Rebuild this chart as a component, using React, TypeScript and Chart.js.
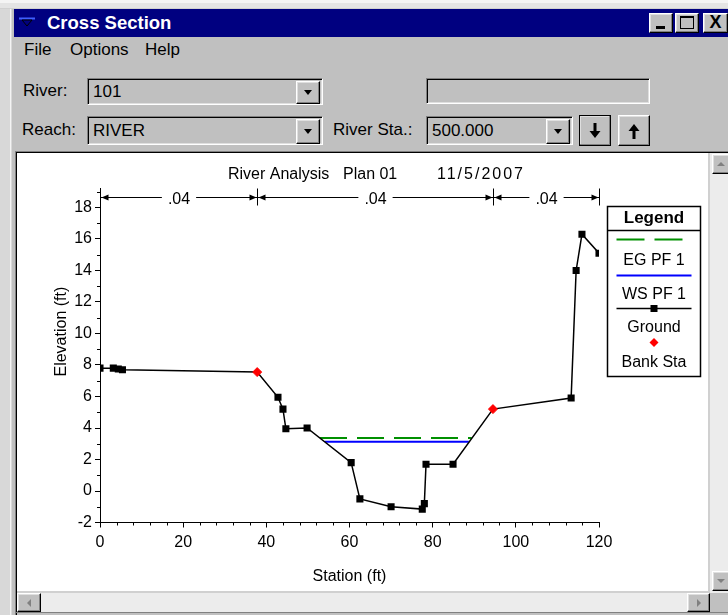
import React, { useEffect, useRef } from "react";
import { Chart, registerables } from "chart.js";

Chart.register(...registerables);

// ---------------- data ----------------
const groundStation = [0, 3.2, 4.4, 5.4, 37.8, 42.8, 44.0, 44.7, 49.8, 60.4, 62.5, 70.0, 77.5, 78.0, 78.4, 84.9, 94.5, 113.3, 114.5, 115.9, 120.0];
const groundElev = [7.8, 7.8, 7.75, 7.7, 7.55, 5.95, 5.2, 3.95, 4.0, 1.8, -0.5, -1.0, -1.15, -0.8, 1.7, 1.7, 5.2, 5.9, 14.0, 16.3, 15.1];
const bankStation = [37.8, 94.5];
const bankElev = [7.55, 5.2];
const wsStation = [54.1, 88.7];
const wsElev = [3.12, 3.12];
const egStation = [52.9, 89.4];
const egElev = [3.36, 3.36];
const nBreaks = [0, 37.8, 94.5, 120];
const nValues = [".04", ".04", ".04"];
const xTicks = [0, 20, 40, 60, 80, 100, 120];
const yTicks = [-2, 0, 2, 4, 6, 8, 10, 12, 14, 16, 18];
const xMinorStep = 4;
const yMinorStep = 1;
const legendLabels = ["EG PF 1", "WS PF 1", "Ground", "Bank Sta"];
const titleParts = ["River Analysis", "Plan 01", "11/5/2007"];

// ---------------- styles ----------------
const FONT = '"Liberation Sans", Arial, Helvetica, sans-serif';
const EG_COLOR = "#009000";
const WS_COLOR = "#0000ff";
const GROUND_COLOR = "#000000";
const BANK_COLOR = "#ff0000";

const chartPlugin = {
  id: "hecras",
  afterDraw(chart: any) {
    const { ctx, chartArea: a, scales } = chart;
    const xs = scales.x;
    const ys = scales.y;
    ctx.save();
    ctx.strokeStyle = "#000";
    ctx.fillStyle = "#000";
    ctx.lineWidth = 1;

    // minor ticks
    ctx.beginPath();
    for (let v = xs.min; v <= xs.max + 1e-9; v += xMinorStep) {
      if (xTicks.includes(v)) continue;
      const px = Math.round(xs.getPixelForValue(v)) + 0.5;
      ctx.moveTo(px, a.bottom);
      ctx.lineTo(px, a.bottom + 3);
    }
    for (let v = Math.ceil(ys.min); v <= ys.max + 1e-9; v += yMinorStep) {
      if (yTicks.includes(v)) continue;
      const py = Math.round(ys.getPixelForValue(v)) + 0.5;
      ctx.moveTo(a.left - 3, py);
      ctx.lineTo(a.left, py);
    }
    ctx.stroke();

    // title
    ctx.font = `16px ${FONT}`;
    ctx.textAlign = "left";
    ctx.textBaseline = "middle";
    const ty = a.top - 13.6;
    ctx.fillText(titleParts[0], a.left + 128, ty);
    ctx.fillText(titleParts[1], a.left + 243, ty);
    const hasLS = "letterSpacing" in ctx;
    if (hasLS) (ctx as any).letterSpacing = "2px";
    ctx.fillText(titleParts[2], a.left + 337, ty);
    if (hasLS) (ctx as any).letterSpacing = "0px";

    // y-axis title
    ctx.save();
    ctx.translate(a.left - 38, a.top + 143);
    ctx.rotate(-Math.PI / 2);
    ctx.textAlign = "center";
    ctx.fillText("Elevation (ft)", 0, 0);
    ctx.restore();

    // Manning's n arrows
    const yA = Math.round(a.top + 8.4) + 0.5;
    ctx.textAlign = "center";
    for (let i = 0; i < nValues.length; i++) {
      const x1 = Math.round(xs.getPixelForValue(nBreaks[i])) + 0.5;
      const x2 = Math.round(xs.getPixelForValue(nBreaks[i + 1])) + 0.5;
      const mid = (x1 + x2) / 2;
      const tw = ctx.measureText(nValues[i]).width;
      ctx.beginPath();
      ctx.moveTo(x1, yA);
      ctx.lineTo(mid - tw / 2 - 6, yA);
      ctx.moveTo(mid + tw / 2 + 6, yA);
      ctx.lineTo(x2, yA);
      ctx.stroke();
      ctx.beginPath();
      ctx.moveTo(x1 + 1, yA);
      ctx.lineTo(x1 + 8, yA - 3);
      ctx.lineTo(x1 + 8, yA + 3);
      ctx.closePath();
      ctx.moveTo(x2 - 1, yA);
      ctx.lineTo(x2 - 8, yA - 3);
      ctx.lineTo(x2 - 8, yA + 3);
      ctx.closePath();
      ctx.fill();
      ctx.fillText(nValues[i], mid, yA + 2);
    }
    ctx.beginPath();
    for (let i = 0; i < nBreaks.length; i++) {
      const x = Math.round(xs.getPixelForValue(nBreaks[i])) + 0.5;
      ctx.moveTo(x, yA - 9);
      ctx.lineTo(x, yA + 8);
    }
    ctx.stroke();

    // legend box
    const L = Math.round(a.right + 8) + 0.5;
    const T = Math.round(a.top + 17.4) + 0.5;
    const W = 93;
    const H = 170;
    const cx = L + W / 2;
    ctx.lineWidth = 1.5;
    ctx.strokeRect(L, T, W, H);
    ctx.beginPath();
    ctx.moveTo(L, T + 24);
    ctx.lineTo(L + W, T + 24);
    ctx.stroke();
    ctx.font = `bold 17px ${FONT}`;
    ctx.fillText("Legend", cx, T + 11.5);
    ctx.font = `16px ${FONT}`;
    ctx.lineWidth = 2;
    ctx.strokeStyle = EG_COLOR;
    ctx.setLineDash([28, 10]);
    ctx.beginPath();
    ctx.moveTo(L + 9, T + 33);
    ctx.lineTo(L + 76, T + 33);
    ctx.stroke();
    ctx.setLineDash([]);
    ctx.fillText(legendLabels[0], cx, T + 54);
    ctx.strokeStyle = WS_COLOR;
    ctx.beginPath();
    ctx.moveTo(L + 9, T + 69);
    ctx.lineTo(L + 84, T + 69);
    ctx.stroke();
    ctx.fillText(legendLabels[1], cx, T + 88);
    ctx.strokeStyle = GROUND_COLOR;
    ctx.lineWidth = 1.5;
    ctx.beginPath();
    ctx.moveTo(L + 9, T + 102);
    ctx.lineTo(L + 84, T + 102);
    ctx.stroke();
    ctx.fillRect(cx - 3.5, T + 102 - 3.5, 7, 7);
    ctx.fillText(legendLabels[2], cx, T + 121);
    ctx.fillStyle = BANK_COLOR;
    ctx.beginPath();
    ctx.moveTo(cx - 4.5, T + 136);
    ctx.lineTo(cx, T + 131.5);
    ctx.lineTo(cx + 4.5, T + 136);
    ctx.lineTo(cx, T + 140.5);
    ctx.closePath();
    ctx.fill();
    ctx.fillStyle = "#000";
    ctx.fillText(legendLabels[3], cx, T + 156);
    ctx.restore();
  },
};

// ---------------- chrome helpers ----------------
const raised: React.CSSProperties = {
  position: "absolute",
  background: "#c0c0c0",
  borderTop: "1px solid #fff",
  borderLeft: "1px solid #fff",
  borderRight: "1px solid #000",
  borderBottom: "1px solid #000",
  boxShadow: "inset -1px -1px #808080, inset 1px 1px #dfdfdf",
  boxSizing: "border-box",
};
const sunken: React.CSSProperties = {
  position: "absolute",
  background: "#c0c0c0",
  borderTop: "1px solid #808080",
  borderLeft: "1px solid #808080",
  borderRight: "1px solid #fff",
  borderBottom: "1px solid #fff",
  boxShadow: "inset 1px 1px #000, inset -1px -1px #dfdfdf",
  boxSizing: "border-box",
};
const label: React.CSSProperties = {
  position: "absolute",
  fontSize: 17,
  color: "#000",
  whiteSpace: "nowrap",
  lineHeight: "20px",
};

function DownTri({ color = "#000" }: { color?: string }) {
  return (
    <div style={{ width: 0, height: 0, borderLeft: "4px solid transparent", borderRight: "4px solid transparent", borderTop: `5px solid ${color}` }} />
  );
}

function Combo({ left, top, width, height, text }: { left: number; top: number; width: number; height: number; text: string }) {
  return (
    <div style={{ ...sunken, left, top, width, height }}>
      <div style={{ ...label, left: 5, top: (height - 20) / 2 - 1 }}>{text}</div>
      <div style={{ ...raised, right: 2, top: 2, width: 24, height: height - 4, display: "flex", alignItems: "center", justifyContent: "center" }}>
        <DownTri />
      </div>
    </div>
  );
}

function Arrow({ up }: { up: boolean }) {
  return (
    <svg width="12" height="16" viewBox="0 0 12 16" style={{ transform: up ? "rotate(180deg)" : undefined }}>
      <rect x="4.5" y="0" width="3" height="9" fill="#000" />
      <polygon points="0.5,8 11.5,8 6,15" fill="#000" />
    </svg>
  );
}

function ScrollTri({ dir }: { dir: "up" | "down" | "left" | "right" }) {
  const c = "#808080";
  const s: React.CSSProperties = { width: 0, height: 0 };
  if (dir === "up") Object.assign(s, { borderLeft: "4px solid transparent", borderRight: "4px solid transparent", borderBottom: `4px solid ${c}` });
  if (dir === "down") Object.assign(s, { borderLeft: "4px solid transparent", borderRight: "4px solid transparent", borderTop: `4px solid ${c}` });
  if (dir === "left") Object.assign(s, { borderTop: "4px solid transparent", borderBottom: "4px solid transparent", borderRight: `4px solid ${c}` });
  if (dir === "right") Object.assign(s, { borderTop: "4px solid transparent", borderBottom: "4px solid transparent", borderLeft: `4px solid ${c}` });
  return <div style={s} />;
}

export default function App() {
  const ref = useRef<HTMLCanvasElement>(null);

  useEffect(() => {
    const canvas = ref.current;
    if (!canvas) return;
    const tickFont = { family: FONT, size: 16 };
    const chart = new Chart(canvas, {
      type: "scatter",
      data: {
        datasets: [
          {
            label: "Bank Sta",
            data: bankStation.map((x, i) => ({ x, y: bankElev[i] })),
            showLine: false,
            pointStyle: "rectRot",
            pointRadius: 4.5,
            pointBackgroundColor: BANK_COLOR,
            pointBorderColor: BANK_COLOR,
            pointBorderWidth: 1,
          },
          {
            label: "Ground",
            data: groundStation.map((x, i) => ({ x, y: groundElev[i] })),
            showLine: true,
            borderColor: GROUND_COLOR,
            borderWidth: 1.5,
            pointStyle: "rect",
            pointRadius: groundStation.map((x) => (bankStation.includes(x) ? 0 : 5)),
            pointBackgroundColor: GROUND_COLOR,
            pointBorderColor: GROUND_COLOR,
            pointBorderWidth: 0,
          },
          {
            label: "WS PF 1",
            data: wsStation.map((x, i) => ({ x, y: wsElev[i] })),
            showLine: true,
            borderColor: WS_COLOR,
            borderWidth: 2,
            pointRadius: 0,
          },
          {
            label: "EG PF 1",
            data: egStation.map((x, i) => ({ x, y: egElev[i] })),
            showLine: true,
            borderColor: EG_COLOR,
            borderWidth: 2,
            borderDash: [27, 10],
            pointRadius: 0,
          },
        ],
      },
      options: {
        responsive: false,
        animation: false,
        devicePixelRatio: 1,
        layout: { padding: { left: 0, right: 109, top: 35.6, bottom: 0 } },
        plugins: { legend: { display: false }, title: { display: false }, tooltip: { enabled: false } },
        scales: {
          x: {
            type: "linear",
            min: 0,
            max: 120,
            afterBuildTicks: (s: any) => {
              s.ticks = xTicks.map((v) => ({ value: v }));
            },
            afterFit: (s: any) => {
              s.height = 70.5;
            },
            grid: { drawOnChartArea: false, drawTicks: true, tickLength: 5, color: "#000", tickColor: "#000", lineWidth: 1 },
            border: { display: true, color: "#000", width: 1 },
            ticks: { color: "#000", font: tickFont, padding: 5, maxRotation: 0, autoSkip: false },
            title: { display: true, text: "Station (ft)", color: "#000", font: tickFont, padding: { top: 0, bottom: 7 } },
          },
          y: {
            type: "linear",
            min: -2,
            max: 19.2,
            afterBuildTicks: (s: any) => {
              s.ticks = yTicks.map((v) => ({ value: v }));
            },
            afterFit: (s: any) => {
              s.width = 83;
            },
            grid: { drawOnChartArea: false, drawTicks: true, tickLength: 5, color: "#000", tickColor: "#000", lineWidth: 1 },
            border: { display: true, color: "#000", width: 1 },
            ticks: { color: "#000", font: tickFont, padding: 3, autoSkip: false },
            title: { display: false },
          },
        },
      },
      plugins: [chartPlugin],
    } as any);
    return () => chart.destroy();
  }, []);

  return (
    <div style={{ position: "fixed", left: 0, top: 0, width: 728, height: 615, background: "#c0c0c0", overflow: "hidden", fontFamily: FONT }}>
      <div style={{ position: "absolute", left: 0, top: 0, width: 728, height: 9, background: "#e4e4e4", borderBottom: "1px solid #d0d0d0", boxSizing: "border-box" }} />
      <div style={{ position: "absolute", left: 0, top: 0, width: 728, height: 3, background: "#f4f4f4" }} />
      <div style={{ position: "absolute", left: 0, top: 9, width: 12, height: 606, background: "#d8d8d8" }} />
      <div style={{ position: "absolute", left: 10, top: 9, width: 1, height: 606, background: "#f4f4f4" }} />
      <div style={{ position: "absolute", left: 14, top: 9, width: 714, height: 28, background: "#000080" }}>
        <svg width="18" height="14" style={{ position: "absolute", left: 4, top: 7 }}>
          <line x1="1" y1="2.5" x2="17" y2="2.5" stroke="#4060ff" strokeWidth="2" />
          <polygon points="4,4 14,4 9,10" fill="none" stroke="#000" strokeWidth="1" />
        </svg>
        <div style={{ position: "absolute", left: 33, top: 3, color: "#fff", fontWeight: "bold", fontSize: 18.5, lineHeight: "22px", whiteSpace: "nowrap" }}>Cross Section</div>
        <div style={{ ...raised, left: 635, top: 4, width: 24, height: 20 }}>
          <div style={{ position: "absolute", left: 6, top: 12, width: 9, height: 3, background: "#000" }} />
        </div>
        <div style={{ ...raised, left: 661, top: 4, width: 24, height: 20 }}>
          <div style={{ position: "absolute", left: 4, top: 2, width: 14, height: 13, border: "1px solid #000", borderTopWidth: 2, boxSizing: "border-box" }} />
        </div>
        <div style={{ ...raised, left: 689, top: 4, width: 25, height: 20, fontWeight: "bold", fontSize: 18, lineHeight: "17px", textAlign: "center" }}>X</div>
      </div>
      <div style={{ ...label, left: 24, top: 40 }}>File</div>
      <div style={{ ...label, left: 70, top: 40 }}>Options</div>
      <div style={{ ...label, left: 145, top: 40 }}>Help</div>
      <div style={{ ...label, left: 23, top: 81 }}>River:</div>
      <Combo left={87} top={78} width={236} height={27} text="101" />
      <div style={{ ...sunken, left: 426, top: 78, width: 224, height: 26 }} />
      <div style={{ ...label, left: 22, top: 120 }}>Reach:</div>
      <Combo left={87} top={116} width={236} height={29} text="RIVER" />
      <div style={{ ...label, left: 333, top: 120 }}>River Sta.:</div>
      <Combo left={426} top={116} width={147} height={29} text="500.000" />
      <div style={{ ...raised, left: 579, top: 115, width: 32, height: 31, outline: "1px solid #000", outlineOffset: -1, display: "flex", alignItems: "center", justifyContent: "center" }}>
        <Arrow up={false} />
      </div>
      <div style={{ ...raised, left: 618, top: 115, width: 32, height: 31, display: "flex", alignItems: "center", justifyContent: "center" }}>
        <Arrow up={true} />
      </div>
      <div style={{ position: "absolute", left: 15, top: 151, width: 713, height: 1, background: "#808080" }} />
      <div style={{ position: "absolute", left: 15, top: 151, width: 1, height: 464, background: "#808080" }} />
      <div style={{ position: "absolute", left: 16, top: 152, width: 712, height: 1, background: "#000" }} />
      <div style={{ position: "absolute", left: 16, top: 152, width: 1, height: 463, background: "#000" }} />
      <div style={{ position: "absolute", left: 17, top: 153, width: 691, height: 440, background: "#fff" }}>
        <canvas ref={ref} width={691} height={440} style={{ display: "block", width: 691, height: 440 }} />
      </div>
      <div style={{ position: "absolute", left: 708, top: 153, width: 2, height: 440, background: "#d0d0d0" }} />
      <div style={{ position: "absolute", left: 710, top: 153, width: 18, height: 440, background: "#ececec" }} />
      <div style={{ ...raised, left: 712, top: 154, width: 18, height: 20, display: "flex", alignItems: "center", justifyContent: "center" }}>
        <ScrollTri dir="up" />
      </div>
      <div style={{ ...raised, left: 712, top: 571, width: 18, height: 20, display: "flex", alignItems: "center", justifyContent: "center" }}>
        <ScrollTri dir="down" />
      </div>
      <div style={{ position: "absolute", left: 17, top: 591, width: 693, height: 2, background: "#d0d0d0" }} />
      <div style={{ position: "absolute", left: 17, top: 593, width: 693, height: 19, background: "#ececec" }} />
      <div style={{ ...raised, left: 17, top: 593, width: 24, height: 19, display: "flex", alignItems: "center", justifyContent: "center" }}>
        <ScrollTri dir="left" />
      </div>
      <div style={{ ...raised, left: 687, top: 593, width: 23, height: 19, display: "flex", alignItems: "center", justifyContent: "center" }}>
        <ScrollTri dir="right" />
      </div>
      <div style={{ position: "absolute", left: 710, top: 593, width: 18, height: 19, background: "#c0c0c0" }} />
      <div style={{ position: "absolute", left: 16, top: 612, width: 712, height: 1, background: "#808080" }} />
    </div>
  );
}
